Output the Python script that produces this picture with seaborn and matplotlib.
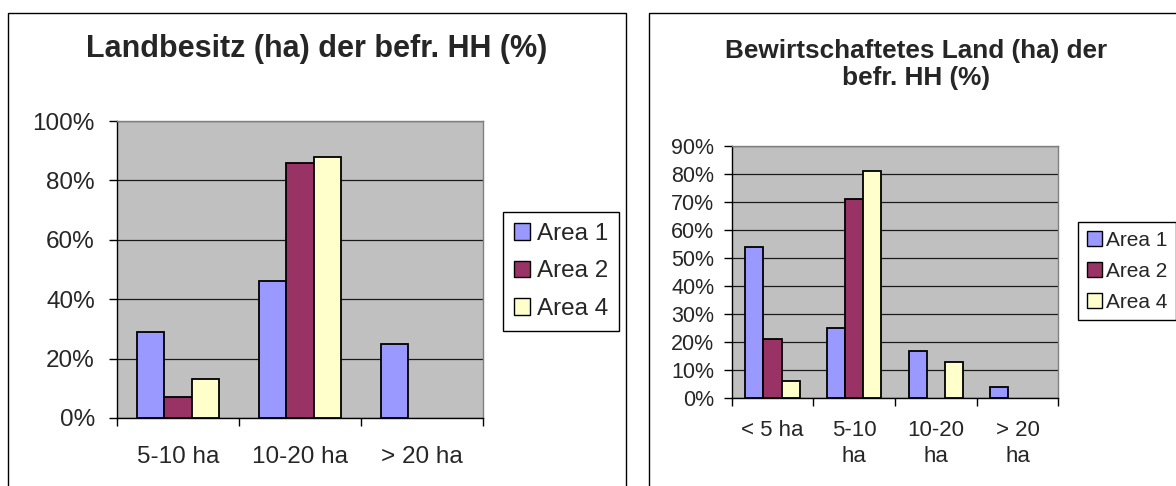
import numpy as np
import pandas as pd
import matplotlib
matplotlib.use("Agg")
import matplotlib.pyplot as plt
from matplotlib.patches import Rectangle, Patch
from matplotlib.ticker import PercentFormatter, FixedLocator
import seaborn as sns

# ---- Daten ----
areas = ["Area 1", "Area 2", "Area 4"]
colors = {"Area 1": "#9999FF", "Area 2": "#993366", "Area 4": "#FFFFCC"}

left_categories = ["5-10 ha", "10-20 ha", "> 20 ha"]
left_area1 = [29, 46, 25]
left_area2 = [7, 86, 0]
left_area4 = [13, 88, 0]

right_categories = ["< 5 ha", "5-10\nha", "10-20\nha", "> 20\nha"]
right_area1 = [54, 25, 17, 4]
right_area2 = [21, 71, 0, 0]
right_area4 = [6, 81, 13, 0]


def long_df(cats, a1, a2, a4):
    rows = []
    for area, vals in zip(areas, [a1, a2, a4]):
        for c, v in zip(cats, vals):
            rows.append({"kat": c, "area": area, "wert": v})
    return pd.DataFrame(rows)


df_left = long_df(left_categories, left_area1, left_area2, left_area4)
df_right = long_df(right_categories, right_area1, right_area2, right_area4)

sns.set_style("white")
plt.rcParams["font.family"] = ["Liberation Sans", "DejaVu Sans"]

W, H = 1176, 486
fig = plt.figure(figsize=(W / 100, H / 100), dpi=100)
fig.patch.set_facecolor("white")


def px_axes(x0, x1, ytop, ybot):
    return fig.add_axes([x0 / W, 1 - ybot / H, (x1 - x0) / W, (ybot - ytop) / H])


def style_axes(ax, n, ymax, ystep, fs, ypad, xpad):
    ax.set_facecolor("#C0C0C0")
    ax.set_axisbelow(True)
    ax.set_ylim(0, ymax)
    ax.set_xlim(-0.5, n - 0.5)
    ax.set_yticks(np.arange(0, ymax + 1, ystep))
    ax.yaxis.set_major_formatter(PercentFormatter(xmax=100, decimals=0))
    ax.grid(axis="y", color="#1a1a1a", linewidth=0.9)
    ax.grid(axis="x", visible=False)
    ax.set_xlabel("")
    ax.set_ylabel("")
    for s in ["left", "bottom"]:
        ax.spines[s].set_color("black")
        ax.spines[s].set_linewidth(1.0)
    for s in ["top", "right"]:
        ax.spines[s].set_color("#808080")
        ax.spines[s].set_linewidth(1.0)
    ax.tick_params(axis="y", direction="out", length=6, width=1.0, color="black",
                   labelsize=fs, pad=ypad, left=True)
    ax.tick_params(axis="x", which="major", length=0, labelsize=fs, pad=xpad)
    ax.xaxis.set_minor_locator(FixedLocator(np.arange(-0.5, n, 1.0)))
    ax.tick_params(axis="x", which="minor", direction="out", length=6, width=1.0,
                   color="black", bottom=True)
    # leere Balken (0 %) wie in Excel ohne Rand
    for cont in ax.containers:
        for p in cont:
            if p.get_height() == 0:
                p.set_linewidth(0)


def add_legend(ax, x, y, fs, hl, tp, ls, bp):
    handles = [Patch(facecolor=colors[a], edgecolor="black", linewidth=1.0, label=a)
               for a in areas]
    leg = ax.legend(handles=handles, loc="upper left", bbox_to_anchor=(x / W, 1 - y / H),
                    bbox_transform=fig.transFigure, borderaxespad=0, fontsize=fs,
                    frameon=True, fancybox=False, edgecolor="black", framealpha=1,
                    handlelength=hl, handleheight=hl, handletextpad=tp,
                    labelspacing=ls, borderpad=bp)
    leg.get_frame().set_linewidth(1.0)


# ---- linkes Diagramm ----
ax1 = px_axes(117, 483, 121, 418)
sns.barplot(data=df_left, x="kat", y="wert", hue="area", palette=colors,
            saturation=1, width=3 / 4.5, edgecolor="black", linewidth=1.3, ax=ax1)
style_axes(ax1, 3, 100, 20, 17.5, 10, 20)
add_legend(ax1, 503, 212, 17.5, 0.66, 0.3, 0.64, 0.45)

fig.text(317 / W, 1 - 57 / H, "Landbesitz (ha) der befr. HH (%)", ha="center",
         va="baseline", fontsize=22, fontweight="bold")

# ---- rechtes Diagramm ----
ax2 = px_axes(731.7, 1058.3, 146, 398.3)
sns.barplot(data=df_right, x="kat", y="wert", hue="area", palette=colors,
            saturation=1, width=3 / 4.5, edgecolor="black", linewidth=1.3, ax=ax2)
style_axes(ax2, 4, 90, 10, 15.5, 6.5, 15.5)
ax2.tick_params(axis="x", labelsize=16)
for t in ax2.get_xticklabels():
    t.set_linespacing(1.35)
add_legend(ax2, 1078, 222, 15, 0.72, 0.22, 0.57, 0.42)

fig.text(916 / W, 1 - 85 / H, "Bewirtschaftetes Land (ha) der\nbefr. HH (%)",
         ha="center", va="baseline", multialignment="center", fontsize=18.8,
         fontweight="bold", linespacing=1.18)

# ---- Rahmen der Diagrammflaechen ----
for x0, x1 in [(8, 626), (649, 1185)]:
    fig.patches.append(Rectangle((x0 / W, -0.05), (x1 - x0) / W, 1 - 13 / H + 0.05,
                                 transform=fig.transFigure, fill=False,
                                 edgecolor="black", linewidth=1.0))

fig.savefig("out.png", dpi=100)
